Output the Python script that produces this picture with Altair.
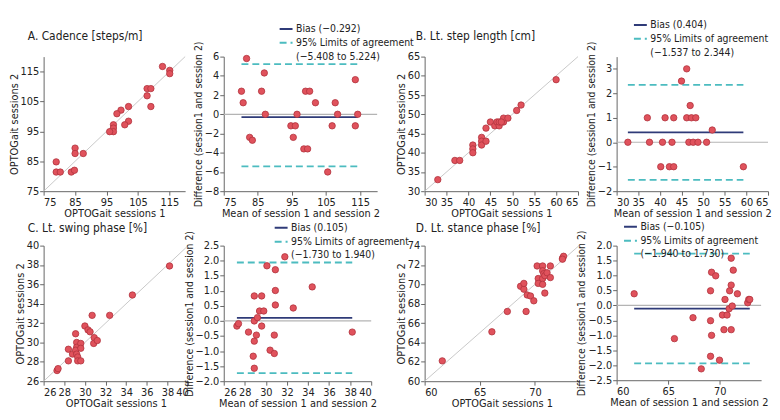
import altair as alt
import pandas as pd

FONT = "DejaVu Sans Condensed, DejaVu Sans, sans-serif"
NAVY = "#2f3b78"
TEAL = "#4cbcc0"
PT_FILL = "#e0525c"
PT_STROKE = "#b0333d"
GREY = "#c8c8c8"

# ---------------- A. Cadence ----------------
a_s1 = [112.8, 115.1, 115.1, 107.9, 109.1, 107.9, 109.1, 102.0, 99.6, 98.3, 97.2, 97.2,
        97.2, 96.0, 102.0, 100.8, 85.0, 85.0, 87.6, 79.0, 79.0, 80.3, 83.8, 84.8]
a_s2 = [116.7, 115.4, 114.3, 109.3, 109.3, 106.9, 103.3, 103.3, 102.1, 100.9, 97.2, 96.1,
        94.9, 94.9, 98.4, 97.2, 89.4, 87.6, 87.6, 84.8, 81.4, 81.4, 81.4, 82.0]
a_mean = [81.7, 80.2, 80.7, 86.9, 86.1, 87.2, 82.6, 83.4, 94.7, 96.0, 95.4, 96.5,
          98.5, 99.6, 99.0, 100.2, 101.9, 106.8, 105.5, 107.7, 108.4, 113.6, 113.6, 114.3]
a_diff = [5.8, 2.4, 1.2, 4.3, 2.4, 0.0, -2.4, -2.7, -1.2, -1.2, -2.4, 0.0,
          -3.6, -3.6, 2.4, 2.4, 1.2, -1.2, -6.0, 1.2, 0.0, 3.6, -1.2, 0.0]
a_stats = [-0.292, -5.408, 5.224]
a_labels = ["Bias (\u22120.292)", "95% Limits of agreement", "(\u22125.408 to 5.224)"]

# ---------------- B. Lt. step length ----------------
b_s1 = [33, 36.9, 38, 41, 41, 41, 43, 43, 43, 44, 44, 45, 46, 46.5, 47, 47, 48, 48, 49, 47.5, 51, 52, 60]
b_s2 = [33, 38, 38, 42, 41, 40, 44, 43, 42, 43, 46.4, 48, 47, 48, 47, 48, 48, 49, 49, 48, 51, 52.4, 59]
b_mean = [32.6, 37.1, 37.6, 40.2, 40.6, 41.2, 42.2, 42.8, 43.2, 43.2, 45.0, 46.2, 46.2, 46.7,
          47.0, 47.3, 47.7, 48.3, 48.8, 50.8, 52.1, 59.3]
b_diff = [0, 1, 0, -1, 0, 1, -1, 0, 1, -1, 2.5, 3, 1, 0, 1.5, 1, 0, 1, 0, 0, 0.5, -1]
b_stats = [0.404, -1.537, 2.344]
b_labels = ["Bias (0.404)", "95% Limits of agreement", "(\u22121.537 to 2.344)"]

# ---------------- C. Lt. swing phase ----------------
c_s1 = [27.3, 27.4, 28.4, 28.4, 28.8, 29.1, 29.2, 29.2, 29.1, 29.2, 29.3, 29.3, 29.6, 29.6,
        29.6, 30.0, 30.3, 30.5, 30.7, 30.9, 30.85, 31.2, 32.4, 34.6, 38.2]
c_s2 = [27.1, 27.3, 29.3, 28.1, 28.8, 30.9, 30.0, 29.5, 29.2, 28.8, 28.5, 28.1, 29.9, 29.4,
        28.1, 31.7, 31.3, 31.1, 32.8, 30.5, 29.9, 30.2, 32.8, 34.9, 37.9]
c_mean = [27.25, 27.4, 28.35, 28.9, 28.9, 28.9, 28.8, 28.9, 29.1, 29.2, 29.4, 29.6, 29.6, 29.8,
          30.1, 30.4, 30.8, 30.8, 30.9, 30.9, 30.9, 31.8, 32.6, 34.4, 38.2]
c_diff = [-0.17, -0.09, -0.37, 0.0, 0.83, -0.67, -1.17, -1.57, -0.47, 0.11, 0.33, 0.83, -0.17, 0.33,
          1.83, -0.97, -1.08, -0.47, 1.7, 1.01, 0.53, 2.13, 0.43, 1.13, -0.37]
c_stats = [0.105, -1.730, 1.940]
c_labels = ["Bias (0.105)", "95% Limits of agreement", "(\u22121.730 to 1.940)"]

# ---------------- D. Lt. stance phase ----------------
d_s1 = [61.6, 66.1, 67.5, 69.2, 68.7, 69.0, 69.0, 69.3, 69.6, 69.9, 70.2, 70.3, 70.3, 70.7,
        70.7, 70.8, 70.7, 70.7, 70.9, 70.9, 71.1, 71.4, 71.4, 72.5, 72.6, 72.5]
d_s2 = [62.1, 65.1, 67.2, 67.2, 69.8, 69.5, 70.1, 68.9, 68.8, 68.3, 71.9, 70.6, 70.1, 71.9,
        71.4, 71.1, 70.6, 70.0, 69.1, 70.9, 71.2, 71.9, 70.7, 72.7, 72.9, 72.6]
d_mean = [61.7, 65.6, 67.4, 68.2, 69.1, 69.1, 69.2, 69.1, 69.2, 69.6, 69.97, 70.25, 70.4, 70.5,
          70.7, 70.9, 70.95, 71.1, 71.1, 71.1, 71.2, 71.3, 71.7, 72.7, 72.8, 72.9]
d_diff = [0.39, -1.11, -0.41, -2.12, 0.49, -0.51, -1.0, -1.7, 1.11, 0.99, -1.83, -0.32, -0.81, 0.2,
          -0.32, -0.11, 0.49, 1.58, 0.68, -0.81, -0.02, 1.18, 0.39, 0.09, 0.2, 0.2]
d_stats = [-0.105, -1.940, 1.730]
d_labels = ["Bias (\u22120.105)", "95% Limits of agreement", "(\u22121.940 to 1.730)"]

titles = ["A. Cadence [steps/m]", "B. Lt. step length [cm]",
          "C. Lt. swing phase [%]", "D. Lt. stance phase [%]"]


def scatter_panel(s1, s2, lo, hi, xticks, yticks, w, h, title, tdx, toff):
    df = pd.DataFrame({"s1": s1, "s2": s2})
    ident = pd.DataFrame({"x": [lo], "x2": [hi], "y": [lo], "y2": [hi]})
    sc = alt.Scale(domain=[lo, hi], nice=False, zero=False)
    xax = alt.Axis(values=xticks, title="OPTOGait sessions 1")
    yax = alt.Axis(values=yticks, title="OPTOGait sessions 2")
    diag = alt.Chart(ident).mark_rule(color=GREY, strokeWidth=1).encode(
        x=alt.X("x:Q", scale=sc, axis=xax), x2="x2:Q",
        y=alt.Y("y:Q", scale=sc, axis=yax), y2="y2:Q")
    pts = alt.Chart(df).mark_circle(size=42, fill=PT_FILL, stroke=PT_STROKE,
                                    strokeWidth=0.8, opacity=1).encode(
        x=alt.X("s1:Q", scale=sc, axis=xax),
        y=alt.Y("s2:Q", scale=sc, axis=yax))
    return alt.layer(diag, pts).properties(
        width=w, height=h,
        title=alt.TitleParams(title, anchor="start", frame="group", dx=tdx, offset=toff, font=FONT,
                              fontSize=12, fontWeight="normal", color="#222"))


def ba_panel(mean, diff, stats, labels, xdom, xticks, ydom, yticks, yfmt, w, h, lx, ly):
    df = pd.DataFrame({"m": mean, "d": diff})
    m0, m1 = min(mean), max(mean)
    zero = pd.DataFrame({"x": [xdom[0]], "x2": [xdom[1]], "y": [0.0]})
    st = pd.DataFrame({"x": [m0] * 3, "x2": [m1] * 3, "y": stats,
                       "k": [labels[0], labels[1], labels[1]]})
    xs = alt.Scale(domain=xdom, nice=False, zero=False)
    ys = alt.Scale(domain=ydom, nice=False, zero=False)
    xax = alt.Axis(values=xticks, title="Mean of session 1 and session 2")
    yax = alt.Axis(values=yticks, title="Difference (session1 and session 2)", format=yfmt,
                   titleFontSize=10.5)
    leg = alt.Legend(orient="none", legendX=lx, legendY=ly, title=None, symbolType="stroke",
                     symbolStrokeWidth=2, symbolSize=170, labelFont=FONT, labelFontSize=10.5,
                     labelColor="#222", rowPadding=0, labelOffset=2, padding=0)
    zl = alt.Chart(zero).mark_rule(color="#b4b4b4", strokeWidth=1.2).encode(
        x=alt.X("x:Q", scale=xs, axis=xax), x2="x2:Q",
        y=alt.Y("y:Q", scale=ys, axis=yax))
    sl = alt.Chart(st).mark_rule(strokeWidth=1.8).encode(
        x=alt.X("x:Q", scale=xs, axis=xax), x2="x2:Q",
        y=alt.Y("y:Q", scale=ys, axis=yax),
        color=alt.Color("k:N", scale=alt.Scale(domain=labels, range=[NAVY, TEAL, "rgba(0,0,0,0)"]),
                        legend=leg),
        strokeDash=alt.StrokeDash("k:N", scale=alt.Scale(domain=labels, range=[[1, 0], [7, 4], [1, 0]]),
                                  legend=leg))
    pts = alt.Chart(df).mark_circle(size=42, fill=PT_FILL, stroke=PT_STROKE,
                                    strokeWidth=0.8, opacity=1).encode(
        x=alt.X("m:Q", scale=xs, axis=xax),
        y=alt.Y("d:Q", scale=ys, axis=yax))
    return alt.layer(zl, sl, pts).properties(width=w, height=h)


def gap(w, h):
    return alt.Chart(pd.DataFrame({"v": [0]})).mark_point(opacity=0).encode(
        x=alt.X("v:Q", axis=None), y=alt.Y("v:Q", axis=None)).properties(width=w, height=h)


A = scatter_panel(a_s1, a_s2, 75, 120, [75, 85, 95, 105, 115], [75, 85, 95, 105, 115], 143, 136,
                  titles[0], -16, 13)
ABA = ba_panel(a_mean, a_diff, a_stats, a_labels, [75, 120], [75, 85, 95, 105, 115],
               [-8, 6], [-8, -6, -4, -2, 0, 2, 4, 6], "d", 155, 136, 55, -36)
B = scatter_panel(b_s1, b_s2, 30, 65, [30, 35, 40, 45, 50, 55, 60, 65], [30, 35, 40, 45, 50, 55, 60, 65],
                  155, 136, titles[1], -9, 8)
BBA = ba_panel(b_mean, b_diff, b_stats, b_labels, [30, 65], [30, 35, 40, 45, 50, 55, 60, 65],
               [-2, 3.5], [-2, -1, 0, 1, 2, 3], "d", 153, 136, 16, -40)
C = scatter_panel(c_s1, c_s2, 26, 40, [26, 28, 30, 32, 34, 36, 38, 40], [26, 28, 30, 32, 34, 36, 38, 40],
                  146, 137, titles[2], -16, 5)
CBA = ba_panel(c_mean, c_diff, c_stats, c_labels, [26, 40], [26, 28, 30, 32, 34, 36, 38, 40],
               [-2, 2.5], [-2, -1.5, -1, -0.5, 0, 0.5, 1, 1.5, 2, 2.5], ".1f", 149, 137, 50, -26)
D = scatter_panel(d_s1, d_s2, 60, 74, [60, 65, 70], [60, 62, 64, 66, 68, 70, 72, 74], 156, 137,
                  titles[3], -9, 5)
DBA = ba_panel(d_mean, d_diff, d_stats, d_labels, [60, 74], [60, 65, 70],
               [-2.5, 2.0], [-2.5, -2, -1.5, -1, -0.5, 0, 0.5, 1, 1.5, 2], ".1f", 146, 136, 6, -27)

cells = [A, gap(33, 136), ABA, gap(48, 136), B, gap(34, 136), BBA,
         C, gap(36, 137), CBA, gap(48, 137), D, gap(38, 137), DBA]

chart = alt.concat(*cells, columns=7, spacing={"row": 55, "column": 0},
                   bounds="flush", align="none").resolve_scale(
    x="independent", y="independent", color="independent", strokeDash="independent"
).properties(
    padding={"left": 0, "top": 7, "right": 0, "bottom": 0}
).configure_axis(
    domainColor="#666", tickColor="#666", labelColor="#222", titleColor="#222",
    labelFont=FONT, titleFont=FONT, labelFontSize=11, titleFontSize=11,
    titleFontWeight="normal", tickSize=4, grid=False, labelPadding=1, titlePadding=1
).configure_view(stroke=None).configure_legend(labelFont=FONT)

chart.save("out.html", embed_options={"renderer": "svg", "actions": False})
